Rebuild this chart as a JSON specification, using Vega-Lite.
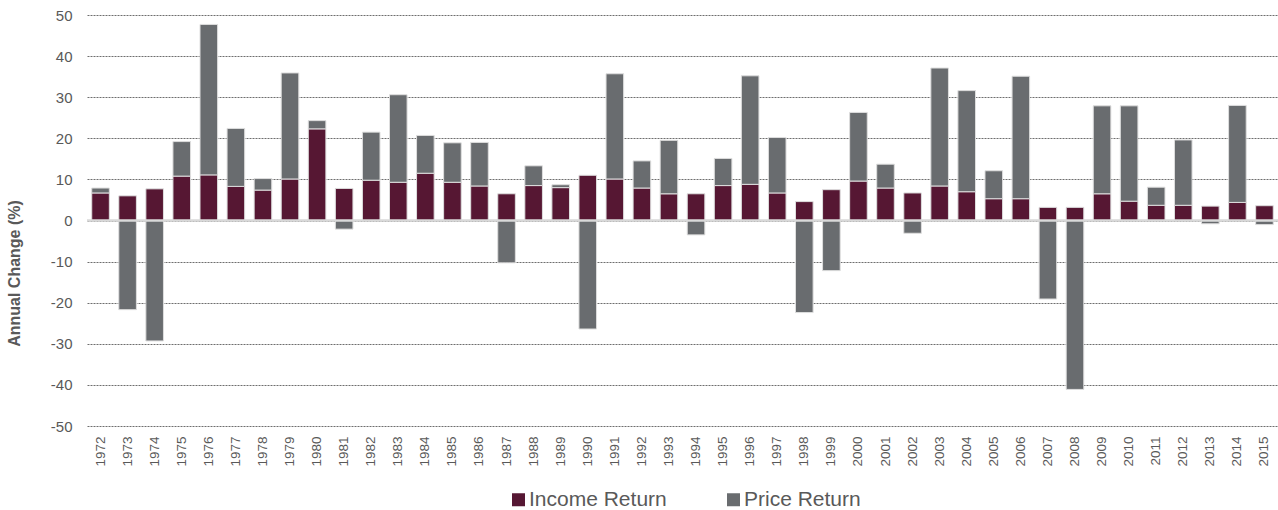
{
  "$schema": "https://vega.github.io/schema/vega-lite/v6.json",
  "width": 1191,
  "height": 411,
  "autosize": {"type": "none"},
  "padding": {"left": 87, "top": 15, "right": 0, "bottom": 84},
  "background": "white",
  "config": {
    "font": "Liberation Sans",
    "view": {"stroke": null},
    "axis": {"labelColor": "#595959", "titleColor": "#595959"}
  },
  "layer": [
    {
      "data": {"values": [
        {"year": "1972", "series": "Income Return", "value": 6.7}, {"year": "1972", "series": "Price Return", "value": 1.2},
        {"year": "1973", "series": "Income Return", "value": 6.0}, {"year": "1973", "series": "Price Return", "value": -21.7},
        {"year": "1974", "series": "Income Return", "value": 7.7}, {"year": "1974", "series": "Price Return", "value": -29.3},
        {"year": "1975", "series": "Income Return", "value": 10.8}, {"year": "1975", "series": "Price Return", "value": 8.4},
        {"year": "1976", "series": "Income Return", "value": 11.1}, {"year": "1976", "series": "Price Return", "value": 36.6},
        {"year": "1977", "series": "Income Return", "value": 8.3}, {"year": "1977", "series": "Price Return", "value": 14.1},
        {"year": "1978", "series": "Income Return", "value": 7.4}, {"year": "1978", "series": "Price Return", "value": 2.8},
        {"year": "1979", "series": "Income Return", "value": 10.1}, {"year": "1979", "series": "Price Return", "value": 25.8},
        {"year": "1980", "series": "Income Return", "value": 22.3}, {"year": "1980", "series": "Price Return", "value": 2.0},
        {"year": "1981", "series": "Income Return", "value": 7.8}, {"year": "1981", "series": "Price Return", "value": -2.1},
        {"year": "1982", "series": "Income Return", "value": 9.8}, {"year": "1982", "series": "Price Return", "value": 11.7},
        {"year": "1983", "series": "Income Return", "value": 9.3}, {"year": "1983", "series": "Price Return", "value": 21.3},
        {"year": "1984", "series": "Income Return", "value": 11.5}, {"year": "1984", "series": "Price Return", "value": 9.2},
        {"year": "1985", "series": "Income Return", "value": 9.3}, {"year": "1985", "series": "Price Return", "value": 9.6},
        {"year": "1986", "series": "Income Return", "value": 8.4}, {"year": "1986", "series": "Price Return", "value": 10.6},
        {"year": "1987", "series": "Income Return", "value": 6.5}, {"year": "1987", "series": "Price Return", "value": -10.3},
        {"year": "1988", "series": "Income Return", "value": 8.5}, {"year": "1988", "series": "Price Return", "value": 4.8},
        {"year": "1989", "series": "Income Return", "value": 8.0}, {"year": "1989", "series": "Price Return", "value": 0.7},
        {"year": "1990", "series": "Income Return", "value": 11.0}, {"year": "1990", "series": "Price Return", "value": -26.4},
        {"year": "1991", "series": "Income Return", "value": 10.1}, {"year": "1991", "series": "Price Return", "value": 25.6},
        {"year": "1992", "series": "Income Return", "value": 7.9}, {"year": "1992", "series": "Price Return", "value": 6.6},
        {"year": "1993", "series": "Income Return", "value": 6.5}, {"year": "1993", "series": "Price Return", "value": 13.0},
        {"year": "1994", "series": "Income Return", "value": 6.5}, {"year": "1994", "series": "Price Return", "value": -3.5},
        {"year": "1995", "series": "Income Return", "value": 8.5}, {"year": "1995", "series": "Price Return", "value": 6.6},
        {"year": "1996", "series": "Income Return", "value": 8.8}, {"year": "1996", "series": "Price Return", "value": 26.4},
        {"year": "1997", "series": "Income Return", "value": 6.7}, {"year": "1997", "series": "Price Return", "value": 13.5},
        {"year": "1998", "series": "Income Return", "value": 4.6}, {"year": "1998", "series": "Price Return", "value": -22.4},
        {"year": "1999", "series": "Income Return", "value": 7.5}, {"year": "1999", "series": "Price Return", "value": -12.2},
        {"year": "2000", "series": "Income Return", "value": 9.6}, {"year": "2000", "series": "Price Return", "value": 16.7},
        {"year": "2001", "series": "Income Return", "value": 7.9}, {"year": "2001", "series": "Price Return", "value": 5.8},
        {"year": "2002", "series": "Income Return", "value": 6.7}, {"year": "2002", "series": "Price Return", "value": -3.1},
        {"year": "2003", "series": "Income Return", "value": 8.4}, {"year": "2003", "series": "Price Return", "value": 28.7},
        {"year": "2004", "series": "Income Return", "value": 7.0}, {"year": "2004", "series": "Price Return", "value": 24.6},
        {"year": "2005", "series": "Income Return", "value": 5.3}, {"year": "2005", "series": "Price Return", "value": 6.8},
        {"year": "2006", "series": "Income Return", "value": 5.3}, {"year": "2006", "series": "Price Return", "value": 29.8},
        {"year": "2007", "series": "Income Return", "value": 3.2}, {"year": "2007", "series": "Price Return", "value": -19.1},
        {"year": "2008", "series": "Income Return", "value": 3.2}, {"year": "2008", "series": "Price Return", "value": -41.1},
        {"year": "2009", "series": "Income Return", "value": 6.5}, {"year": "2009", "series": "Price Return", "value": 21.4},
        {"year": "2010", "series": "Income Return", "value": 4.7}, {"year": "2010", "series": "Price Return", "value": 23.2},
        {"year": "2011", "series": "Income Return", "value": 3.7}, {"year": "2011", "series": "Price Return", "value": 4.4},
        {"year": "2012", "series": "Income Return", "value": 3.7}, {"year": "2012", "series": "Price Return", "value": 15.9},
        {"year": "2013", "series": "Income Return", "value": 3.5}, {"year": "2013", "series": "Price Return", "value": -0.8},
        {"year": "2014", "series": "Income Return", "value": 4.4}, {"year": "2014", "series": "Price Return", "value": 23.6},
        {"year": "2015", "series": "Income Return", "value": 3.6}, {"year": "2015", "series": "Price Return", "value": -1.0}
      ]},
      "mark": {"type": "bar", "stroke": "#dedede", "strokeWidth": 1},
      "encoding": {
        "x": {
          "field": "year", "type": "ordinal",
          "scale": {"paddingInner": 0.35, "paddingOuter": 0.175},
          "axis": {
            "title": null, "domain": false, "ticks": false,
            "labelAngle": -90, "labelFontSize": 13.5, "labelPadding": 10,
            "labelColor": "#595959"
          }
        },
        "y": {
          "field": "value", "type": "quantitative", "stack": "zero",
          "scale": {"domain": [-50, 50], "nice": false},
          "axis": {
            "title": "Annual Change (%)",
            "titleFontSize": 16, "titleFontWeight": "bold", "titleColor": "#595959",
            "titleAngle": -90, "titleAlign": "center", "titleBaseline": "middle",
            "titleX": -73, "titleY": 258,
            "values": [-50, -40, -30, -20, -10, 0, 10, 20, 30, 40, 50],
            "labelExpr": "'' + datum.value",
            "domain": false, "ticks": false,
            "labelFontSize": 15, "labelPadding": 15, "labelColor": "#595959",
            "grid": true, "gridColor": "#6e6e6e", "gridDash": [2, 1], "gridWidth": 1
          }
        },
        "color": {
          "field": "series", "type": "nominal",
          "scale": {"domain": ["Income Return", "Price Return"], "range": ["#561733", "#696c6f"]},
          "legend": {
            "title": null, "orient": "none", "direction": "horizontal",
            "legendX": 421, "legendY": 474, "padding": 0,
            "symbolType": "square", "symbolSize": 169, "symbolStrokeWidth": 0,
            "labelFontSize": 21, "labelColor": "#595959", "labelOffset": 0,
            "columnPadding": 56
          }
        },
        "order": {"field": "series"}
      }
    },
    {
      "data": {"values": [{"zero": 0}]},
      "mark": {"type": "rule", "color": "#d9d9d9", "strokeWidth": 2.5},
      "encoding": {"y": {"field": "zero", "type": "quantitative"}}
    }
  ]
}
